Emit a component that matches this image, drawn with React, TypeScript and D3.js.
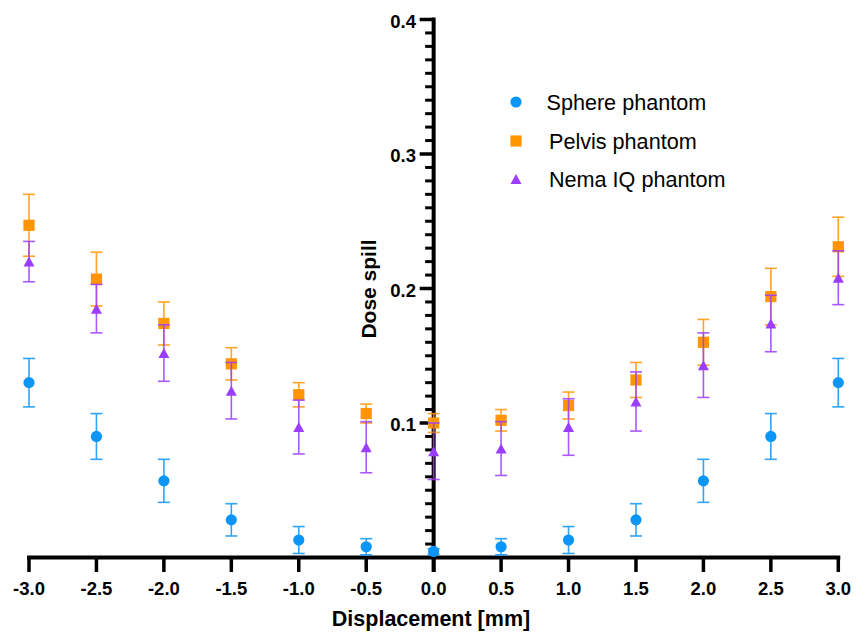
import React from "react";
import * as d3 from "d3";

const displacements = [-3, -2.5, -2, -1.5, -1, -0.5, 0, 0.5, 1, 1.5, 2, 2.5, 3];
const sphereMean = [0.130, 0.090, 0.057, 0.028, 0.013, 0.008, 0.0045, 0.008, 0.013, 0.028, 0.057, 0.090, 0.130];
const sphereErr = [0.018, 0.017, 0.016, 0.012, 0.010, 0.006, 0.002, 0.006, 0.010, 0.012, 0.016, 0.017, 0.018];
const pelvisMean = [0.247, 0.207, 0.174, 0.144, 0.121, 0.107, 0.100, 0.102, 0.113, 0.132, 0.160, 0.194, 0.231];
const pelvisErr = [0.023, 0.020, 0.016, 0.012, 0.009, 0.007, 0.007, 0.008, 0.010, 0.013, 0.017, 0.021, 0.022];
const nemaMean = [0.220, 0.185, 0.152, 0.124, 0.097, 0.082, 0.079, 0.081, 0.097, 0.116, 0.143, 0.174, 0.208];
const nemaErr = [0.015, 0.018, 0.021, 0.021, 0.020, 0.019, 0.021, 0.020, 0.021, 0.022, 0.024, 0.021, 0.020];

const xTicks = [-3, -2.5, -2, -1.5, -1, -0.5, 0, 0.5, 1, 1.5, 2, 2.5, 3];
const yMajorTicks = [0.1, 0.2, 0.3, 0.4];
const seriesNames = ["Sphere phantom", "Pelvis phantom", "Nema IQ phantom"];
const seriesColors = ["#0b95f7", "#ff9500", "#9b3dff"];
const seriesShapes = ["circle", "square", "triangle"];

const W = 857;
const H = 632;
const FONT = "'Liberation Sans', Arial, Helvetica, sans-serif";

const x = d3.scaleLinear().domain([-3, 3]).range([29, 838.3]);
const y = d3.scaleLinear().domain([0, 0.4]).range([557.5, 19.5]);
const fmt = (v: number) => d3.format(".1f")(v).replace("\u2212", "-");

function Marker({ shape, cx, cy, color }: { shape: string; cx: number; cy: number; color: string }) {
  if (shape === "circle") return <circle cx={cx} cy={cy} r={5.6} fill={color} />;
  if (shape === "square") return <rect x={cx - 5.6} y={cy - 5.6} width={11.2} height={11.2} fill={color} />;
  const w = 11, h = 10;
  const path = `M${cx},${cy - h / 2}L${cx + w / 2},${cy + h / 2}L${cx - w / 2},${cy + h / 2}Z`;
  return <path d={path} fill={color} />;
}

export default function App() {
  const series = [
    { mean: sphereMean, err: sphereErr },
    { mean: pelvisMean, err: pelvisErr },
    { mean: nemaMean, err: nemaErr },
  ];
  const x0 = x(0);
  const minorTicks = d3.range(1, 41).map((i) => i / 100).filter((v) => Math.abs(v * 10 - Math.round(v * 10)) > 1e-6);

  return (
    <svg width={W} height={H} style={{ position: "absolute", left: 0, top: 0, background: "#fff" }} fontFamily={FONT}>
      {/* x axis */}
      <line x1={x(-3) - 2} x2={x(3) + 2} y1={y(0)} y2={y(0)} stroke="#000" strokeWidth={4} />
      {xTicks.map((t) => (
        <g key={t}>
          <line x1={x(t)} x2={x(t)} y1={y(0)} y2={572} stroke="#000" strokeWidth={3.5} />
          <text x={x(t)} y={595} textAnchor="middle" fontSize={18.5} fontWeight="bold" fill="#000">
            {fmt(t)}
          </text>
        </g>
      ))}

      {/* y axis */}
      <line x1={x0} x2={x0} y1={y(0.4) - 2} y2={572} stroke="#000" strokeWidth={4} />
      {minorTicks.map((t) => (
        <line key={t} x1={x0 - 8.5} x2={x0} y1={y(t)} y2={y(t)} stroke="#000" strokeWidth={3} />
      ))}
      {yMajorTicks.map((t) => (
        <g key={t}>
          <line x1={x0 - 14} x2={x0} y1={y(t)} y2={y(t)} stroke="#000" strokeWidth={3.5} />
          <text x={416} y={y(t) + 8} textAnchor="end" fontSize={18.5} fontWeight="bold" fill="#000">
            {fmt(t)}
          </text>
        </g>
      ))}

      {/* data */}
      {series.map((s, si) => (
        <g key={si}>
          {displacements.map((d, i) => {
            const cx = x(d);
            const yt = y(s.mean[i] + s.err[i]);
            const yb = y(s.mean[i] - s.err[i]);
            return (
              <g key={i} stroke={seriesColors[si]} strokeWidth={1.6} opacity={0.85}>
                <line x1={cx} x2={cx} y1={yt} y2={yb} />
                <line x1={cx - 6} x2={cx + 6} y1={yt} y2={yt} />
                <line x1={cx - 6} x2={cx + 6} y1={yb} y2={yb} />
              </g>
            );
          })}
          {displacements.map((d, i) => (
            <Marker key={i} shape={seriesShapes[si]} cx={x(d)} cy={y(s.mean[i])} color={seriesColors[si]} />
          ))}
        </g>
      ))}

      {/* axis titles */}
      <text x={431} y={626} textAnchor="middle" fontSize={21.5} fontWeight="bold" fill="#000">
        Displacement [mm]
      </text>
      <text transform={`translate(376,289) rotate(-90)`} textAnchor="middle" fontSize={21} fontWeight="bold" fill="#000">
        Dose spill
      </text>

      {/* legend */}
      {seriesNames.map((n, i) => {
        const ly = [102, 141, 179][i];
        const lx = [546.5, 549, 549][i];
        return (
          <g key={n}>
            <Marker shape={seriesShapes[i]} cx={516} cy={ly} color={seriesColors[i]} />
            <text x={lx} y={ly + 7.5} fontSize={21.6} fill="#000">
              {n}
            </text>
          </g>
        );
      })}
    </svg>
  );
}
